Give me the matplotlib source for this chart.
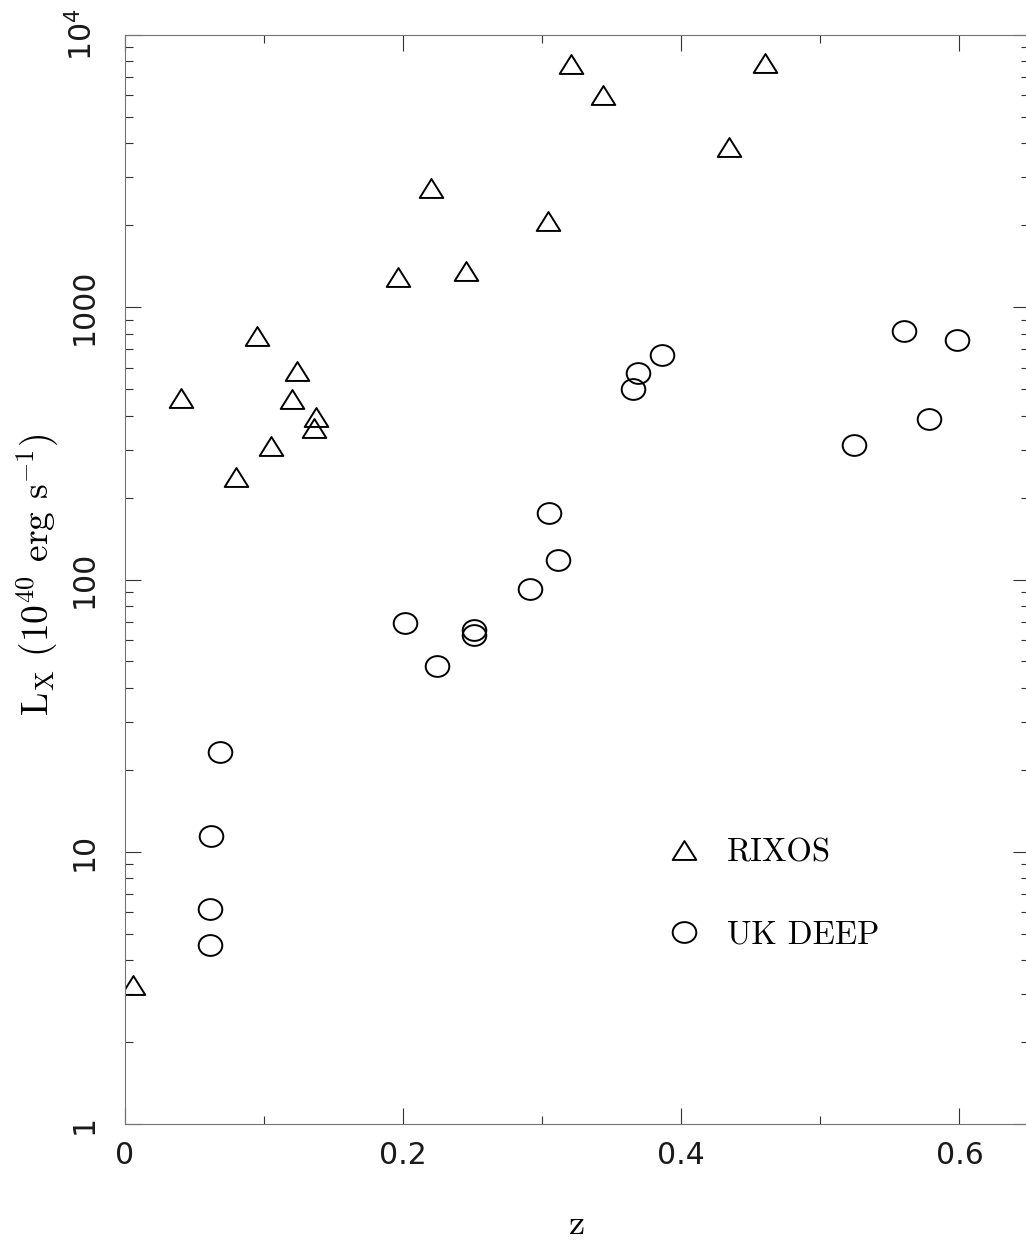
import numpy as np
import matplotlib
matplotlib.use("Agg")
import matplotlib.pyplot as plt
from matplotlib.path import Path
from matplotlib.markers import MarkerStyle
from matplotlib.ticker import FixedLocator, FixedFormatter, LogLocator, NullFormatter

# RIXOS sample: redshift and X-ray luminosity (1e40 erg/s)
rixos_z = [0.006, 0.040, 0.080, 0.095, 0.105, 0.120, 0.124, 0.136, 0.137,
           0.196, 0.220, 0.245, 0.304, 0.321, 0.344, 0.434, 0.460]
rixos_lx = [3.25, 465, 238, 787, 310, 459, 583, 359, 395,
            1290, 2740, 1360, 2070, 7850, 6040, 3890, 7890]

# UK DEEP sample
ukdeep_z = [0.061, 0.061, 0.062, 0.068, 0.201, 0.224, 0.251, 0.251, 0.291,
            0.305, 0.311, 0.365, 0.369, 0.386, 0.524, 0.560, 0.578, 0.598]
ukdeep_lx = [4.54, 6.14, 11.4, 23.2, 69.0, 48.0, 65.3, 62.8, 91.9,
             176, 118, 502, 574, 670, 311, 821, 387, 755]

x_major = [0.0, 0.2, 0.4, 0.6]
x_major_labels = ["0", "0.2", "0.4", "0.6"]
x_minor = [0.1, 0.3, 0.5]
y_major = [1, 10, 100, 1000, 10000]
y_major_labels = ["1", "10", "100", "1000", r"$10^4$"]

plt.rcParams["mathtext.fontset"] = "cm"
plt.rcParams["axes.unicode_minus"] = False

W, H = 1026, 1243
fig = plt.figure(figsize=(W / 100, H / 100), dpi=100)
ax = fig.add_axes([125 / W, (H - 1124) / H, 904 / W, 1089 / H])

# open triangle (slightly flattened) and open ellipse markers
tri = MarkerStyle(Path([(-1, -0.8), (1, -0.8), (0, 0.8), (-1, -0.8)],
                       [Path.MOVETO, Path.LINETO, Path.LINETO, Path.CLOSEPOLY]))
circ_path = Path.unit_circle()
circ = MarkerStyle(Path(circ_path.vertices * np.array([1.0, 0.88]), circ_path.codes))

mk = dict(linestyle="none", markerfacecolor="none", markeredgecolor="black",
          markeredgewidth=1.4, markersize=17)
ax.plot(rixos_z, rixos_lx, marker=tri, label="RIXOS", **mk)
ax.plot(ukdeep_z, ukdeep_lx, marker=circ, label="UK DEEP", **mk)

ax.set_yscale("log")
ax.set_xlim(0, 0.65)
ax.set_ylim(1, 1e4)

ax.xaxis.set_major_locator(FixedLocator(x_major))
ax.xaxis.set_major_formatter(FixedFormatter(x_major_labels))
ax.xaxis.set_minor_locator(FixedLocator(x_minor))
ax.yaxis.set_major_locator(FixedLocator(y_major))
ax.yaxis.set_major_formatter(FixedFormatter(y_major_labels))
ax.yaxis.set_minor_locator(LogLocator(base=10, subs=np.arange(2, 10)))
ax.yaxis.set_minor_formatter(NullFormatter())

for sp in ax.spines.values():
    sp.set_color("0.45")
    sp.set_linewidth(0.8)

ax.tick_params(which="both", direction="in", top=True, right=True, color="0.2", width=0.8)
ax.tick_params(which="major", length=11.5)
ax.tick_params(which="minor", length=5.8)
ax.tick_params(axis="x", which="major", pad=12, labelsize=21.5)
ax.tick_params(axis="y", which="major", pad=19, labelsize=21.5)
for lab in ax.get_yticklabels():
    lab.set_rotation(90)
    lab.set_verticalalignment("center")
for lab in ax.get_xticklabels() + ax.get_yticklabels():
    lab.set_fontfamily("DejaVu Sans")
    lab.set_math_fontfamily("dejavusans")
    lab.set_color("0.1")

fig.text(38 / W, 1 - 575 / H, r"L$_{\rm X}$ (10$^{40}$ erg s$^{-1}$)",
         rotation=90, ha="center", va="center", fontsize=27, family="cmr10")
fig.text(577 / W, 1 - 1225 / H, "z", ha="center", va="center",
         fontsize=26, family="cmr10")

leg = ax.legend(loc="center left", bbox_to_anchor=((668 - 125) / 904, (1124 - 894) / 1089),
                frameon=False, borderpad=0, borderaxespad=0, handlelength=1.0,
                handletextpad=0.8, labelspacing=1.6, numpoints=1,
                prop={"family": "cmr10", "size": 23.5})

fig.savefig("out.png", dpi=100)
